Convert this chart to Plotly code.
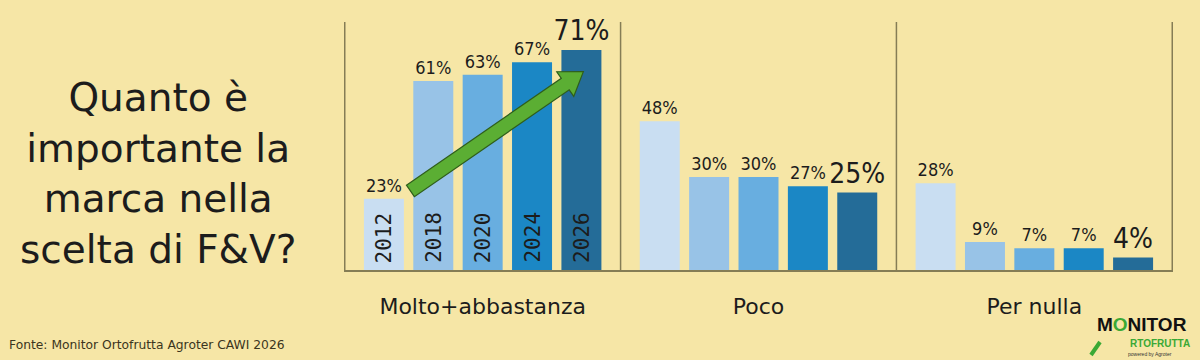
import math
import plotly.graph_objects as go

# ---------------- data ----------------
categories = ["Molto+abbastanza", "Poco", "Per nulla"]
years = ["2012", "2018", "2020", "2024", "2026"]
v2012 = [23, 48, 28]
v2018 = [61, 30, 9]
v2020 = [63, 30, 7]
v2024 = [67, 27, 7]
v2026 = [71, 25, 4]
series = [v2012, v2018, v2020, v2024, v2026]

title_lines = ["Quanto è", "importante la", "marca nella", "scelta di F&V?"]
source_text = "Fonte: Monitor Ortofrutta Agroter CAWI 2026"

# ---------------- style ----------------
W, H = 1200, 360
BG = "#f6e6a6"
bar_colors = ["#c9def2", "#98c3e7", "#68aee0", "#1b87c5", "#246c98"]
label_sizes = [18, 18, 18, 18, 28]
TXT = "#1c1c1c"
LINE = "#857d55"
FONT = "DejaVu Sans"
NUM_FONT = "DejaVu Sans Condensed, DejaVu Sans"

x_dom = [344 / W, 1173 / W]
y_dom = [1 - 270 / H, 1 - 22 / H]
y_rng = [0, 80]
bargap = 0.105
bargroupgap = 0.19

fig = go.Figure()
for yr, vals, col, fs in zip(years, series, bar_colors, label_sizes):
    fig.add_trace(go.Bar(
        name=yr, x=categories, y=vals,
        marker=dict(color=col, line=dict(width=0)),
        texttemplate="%{y}%", textposition="outside", textangle=0,
        textfont=dict(family=NUM_FONT, size=fs, color=TXT),
        constraintext="none", cliponaxis=False,
        hoverinfo="skip",
    ))

n = len(years)
slot = (1 - bargap) / n


def bar_center(cat_idx, s_idx):
    return cat_idx - (1 - bargap) / 2 + slot * (s_idx + 0.5)


annotations = []
# year labels inside the first group's bars
for i, yr in enumerate(years):
    annotations.append(dict(
        x=bar_center(0, i), y=0, xref="x", yref="y",
        text=yr, showarrow=False, textangle=-90,
        xanchor="center", yanchor="bottom", yshift=5,
        font=dict(family="DejaVu Sans Mono", size=21, color=TXT),
    ))

# title block
annotations.append(dict(
    x=158 / W, y=1 - 173 / H, xref="paper", yref="paper",
    text="<br>".join(title_lines), showarrow=False, align="center",
    xanchor="center", yanchor="middle",
    font=dict(family=FONT, size=39, color=TXT),
))

# source
annotations.append(dict(
    x=7 / W, y=1 - 345 / H, xref="paper", yref="paper",
    text=source_text, showarrow=False, xanchor="left", yanchor="middle",
    font=dict(family=FONT, size=12.3, color="#3b3520"),
))

# logo (text approximation)
annotations.append(dict(
    x=1142 / W, y=1 - 324 / H, xref="paper", yref="paper",
    text="<b>M<span style='color:#3aa935'>O</span>NITOR</b>", showarrow=False,
    xanchor="center", yanchor="middle",
    font=dict(family="Liberation Sans", size=19, color="#111111"),
))
annotations.append(dict(
    x=1160 / W, y=1 - 343.5 / H, xref="paper", yref="paper",
    text="<b>RTOFRUTTA</b>", showarrow=False,
    xanchor="center", yanchor="middle",
    font=dict(family="Liberation Sans", size=10, color="#3aa935"),
))
annotations.append(dict(
    x=1150 / W, y=1 - 353.5 / H, xref="paper", yref="paper",
    text="powered by Agroter", showarrow=False,
    xanchor="center", yanchor="middle",
    font=dict(family="Liberation Sans", size=5, color="#333333"),
))

shapes = []
# vertical separators
for xv in [-0.5, 0.5, 1.5, 2.5]:
    shapes.append(dict(type="line", xref="x", yref="y", x0=xv, x1=xv,
                       y0=y_rng[0], y1=y_rng[1],
                       line=dict(color=LINE, width=1.5)))

# green arrow (polygon built in pixel space, converted back to data units)
px_x = W * (x_dom[1] - x_dom[0]) / len(categories)
px_y = H * (y_dom[1] - y_dom[0]) / (y_rng[1] - y_rng[0])
tail = (-0.262, 25.5)
tip = (0.365, 64.0)
shaft_hw, head_hw, head_len = 7.0, 15.0, 22.0
dx = (tip[0] - tail[0]) * px_x
dy = (tip[1] - tail[1]) * px_y
L = math.hypot(dx, dy)
ux, uy = dx / L, dy / L
nx, ny = -uy, ux
bx, by = dx - ux * head_len, dy - uy * head_len
pts_px = [
    (nx * shaft_hw, ny * shaft_hw),
    (bx + nx * shaft_hw, by + ny * shaft_hw),
    (bx + nx * head_hw, by + ny * head_hw),
    (dx, dy),
    (bx - nx * head_hw, by - ny * head_hw),
    (bx - nx * shaft_hw, by - ny * shaft_hw),
    (-nx * shaft_hw, -ny * shaft_hw),
]
pts = [(tail[0] + px / px_x, tail[1] + py / px_y) for px, py in pts_px]
path = "M " + " L ".join(f"{p[0]:.5f},{p[1]:.5f}" for p in pts) + " Z"
shapes.append(dict(type="path", xref="x", yref="y", path=path,
                   fillcolor="#5bae33", line=dict(color="#2f5e1b", width=1.2),
                   layer="above"))

# logo magnifier handle
shapes.append(dict(type="line", xref="paper", yref="paper",
                   x0=1091 / W, y0=1 - 355 / H, x1=1100 / W, y1=1 - 342 / H,
                   line=dict(color="#3aa935", width=4)))

fig.update_layout(
    width=W, height=H,
    margin=dict(l=0, r=0, t=0, b=0),
    paper_bgcolor=BG, plot_bgcolor=BG,
    barmode="group", bargap=bargap, bargroupgap=bargroupgap,
    showlegend=False,
    xaxis=dict(domain=x_dom, showgrid=False, zeroline=False,
               showline=True, linecolor=LINE, linewidth=1.5,
               ticks="", ticklabelstandoff=16,
               tickfont=dict(family=FONT, size=22, color=TXT)),
    yaxis=dict(domain=y_dom, range=y_rng, showgrid=False, zeroline=False,
               showline=False, showticklabels=False, ticks=""),
    annotations=annotations,
    shapes=shapes,
)

fig.write_html("out.html")
